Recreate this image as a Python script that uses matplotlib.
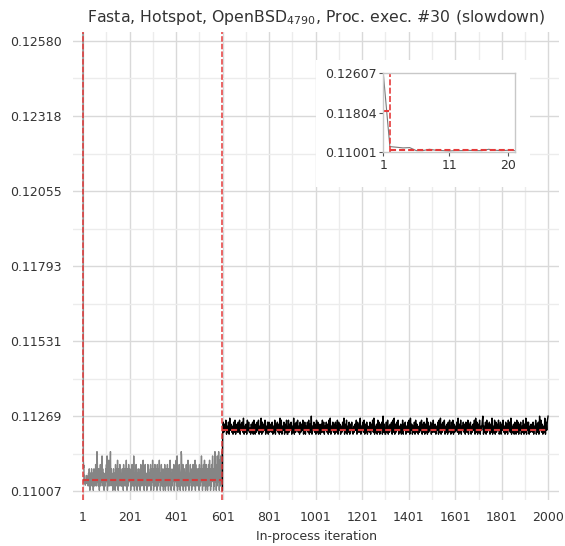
import numpy as np
import matplotlib
matplotlib.use('Agg')
import matplotlib.pyplot as plt
from matplotlib.patches import Rectangle

title = 'Fasta, Hotspot, OpenBSD$_{4790}$, Proc. exec. #30 (slowdown)'

# first 21 iterations
head_vals = [0.12607, 0.11117, 0.11104, 0.11090, 0.11097, 0.11035, 0.11035,
             0.11062, 0.11042, 0.11035, 0.11028, 0.11035, 0.11035, 0.11040,
             0.11035, 0.11035, 0.11062, 0.11042, 0.11035, 0.11042, 0.11035]

# iterations 22..600, coded levels: value = 0.11010 + 0.00015 * digit
slow_codes = ('3142530241352413025314263'
              '1497231540326142583514203'
              '2415362803147251693524130'
              '3524130625413720451362413'
              '1352406142531473052416235'
              '2403516241385031426250341'
              '3512403624153271405362412'
              '0426153142360514273502416'
              '3142506231547240316251430'
              '2516304251362405143725034'
              '1425360142537148025316240'
              '3598142603251430462513724'
              '0314625302416351427062351'
              '4251306241538250416327150'
              '2614305261472503162583405'
              '1793260518426930741852690')

# iterations 600..2000, coded levels: value = 0.11206 + 0.00007 * digit
fast_codes = ('0615270416082514061703516'
              '1705261804150726130516071'
              '0516270418061527041606152'
              '1604170526150817042605170'
              '0715260418051627140615270'
              '1604261705190426150716052'
              '0517160426150718042615061'
              '1706250416280517041605261'
              '0415270615180426170516042'
              '1605271804150716052609150'
              '0617041526071805162704150'
              '1705260416170825041607152'
              '0416270516051806142605171'
              '1504260718051627041506172'
              '0617051426180517042615061'
              '1705260415270816051704269'
              '0416071526051804170615270'
              '1605271406150726180415061'
              '0716052604170518062604152'
              '1604270516092715041806279')

# changepoints and segment means
changepoints = [2, 600]
seg_start = [1, 2, 600]
seg_end = [2, 600, 2000]
seg_mean = [0.1184, 0.11047, 0.11221]

ytick_labels = ['0.11007', '0.11269', '0.11531', '0.11793', '0.12055', '0.12318', '0.12580']
xticks = [1, 201, 401, 601, 801, 1001, 1201, 1401, 1601, 1801, 2000]
inset_yticks = ['0.11001', '0.11804', '0.12607']
inset_xticks = [1, 11, 20]

slow_vals = 0.11010 + 0.00015 * np.array([int(c) for c in slow_codes])
fast_vals = 0.11206 + 0.00007 * np.array([int(c) for c in fast_codes])

x_head = np.arange(1, len(head_vals) + 1)
x_slow = np.concatenate([x_head, np.linspace(22, 600, len(slow_vals))])
y_slow = np.concatenate([head_vals, slow_vals])
x_fast = np.concatenate([[600], np.linspace(601, 2000, len(fast_vals))])
y_fast = np.concatenate([[y_slow[-1]], fast_vals])

red = '#e53b3b'
text_col = '#333333'

fig = plt.figure(figsize=(5.65, 5.46), dpi=100)
ax = fig.add_axes([0.1292, 0.0842, 0.8602, 0.8572])

ax.plot(x_slow, y_slow, color='#858585', lw=1.0, zorder=3)
ax.plot(x_fast, y_fast, color='black', lw=1.0, zorder=3)
for cp in changepoints:
    ax.axvline(cp, color=red, lw=1.1, linestyle=(0, (3.6, 1.4)), zorder=4)
for s, e, m in zip(seg_start, seg_end, seg_mean):
    ax.plot([s, e], [m, m], color='#d63a3a', lw=1.5, linestyle=(0, (2.9, 1.45)), zorder=4)

yt = [float(v) for v in ytick_labels]
ax.set_yticks(yt)
ax.set_yticklabels(ytick_labels)
ax.set_yticks([(a + b) / 2 for a, b in zip(yt[:-1], yt[1:])], minor=True)
ax.set_xticks(xticks)
ax.set_xticks(list(range(101, 2000, 200)), minor=True)
ax.set_xlim(-42, 2047)
ax.set_ylim(0.10976, 0.12611)

ax.grid(which='major', color='#d9d9d9', lw=1.0)
ax.grid(which='minor', color='#ececec', lw=1.0)
ax.set_axisbelow(True)
for sp in ax.spines.values():
    sp.set_visible(False)
ax.tick_params(which='both', length=0, labelsize=9, labelcolor=text_col)
ax.tick_params(axis='y', pad=8)
ax.tick_params(axis='x', pad=8)
ax.set_xlabel('In-process iteration', fontsize=9, color=text_col, labelpad=4)
ax.set_title(title, fontsize=11.3, color=text_col, pad=7)

# white backing behind the inset
fig.add_artist(Rectangle((0.559, 0.6575), 0.379, 0.2325, transform=fig.transFigure,
                         facecolor='white', edgecolor='none', zorder=1))

ins = fig.add_axes([0.6784, 0.7211, 0.2331, 0.1443])
ins.set_zorder(2)
ins.plot(x_head, head_vals, color='#7a7a7a', lw=0.8)
ins.axvline(changepoints[0], color=red, lw=1.2, linestyle=(0, (3.6, 1.4)))
for s, e, m in zip(seg_start, seg_end, seg_mean):
    ins.plot([s, min(e, 21)], [m, m], color=red, lw=1.5, linestyle=(0, (2.9, 1.45)))
iy = [float(v) for v in inset_yticks]
ins.set_ylim(iy[0], iy[-1])
ins.set_xlim(1, 21)
ins.set_yticks(iy)
ins.set_yticklabels(inset_yticks)
ins.set_xticks(inset_xticks)
for sp in ins.spines.values():
    sp.set_color('#c8c8c8')
    sp.set_linewidth(1.0)
ins.tick_params(length=3, color='#555555', labelsize=9, labelcolor=text_col, pad=2)

fig.savefig('out.png', dpi=100)
